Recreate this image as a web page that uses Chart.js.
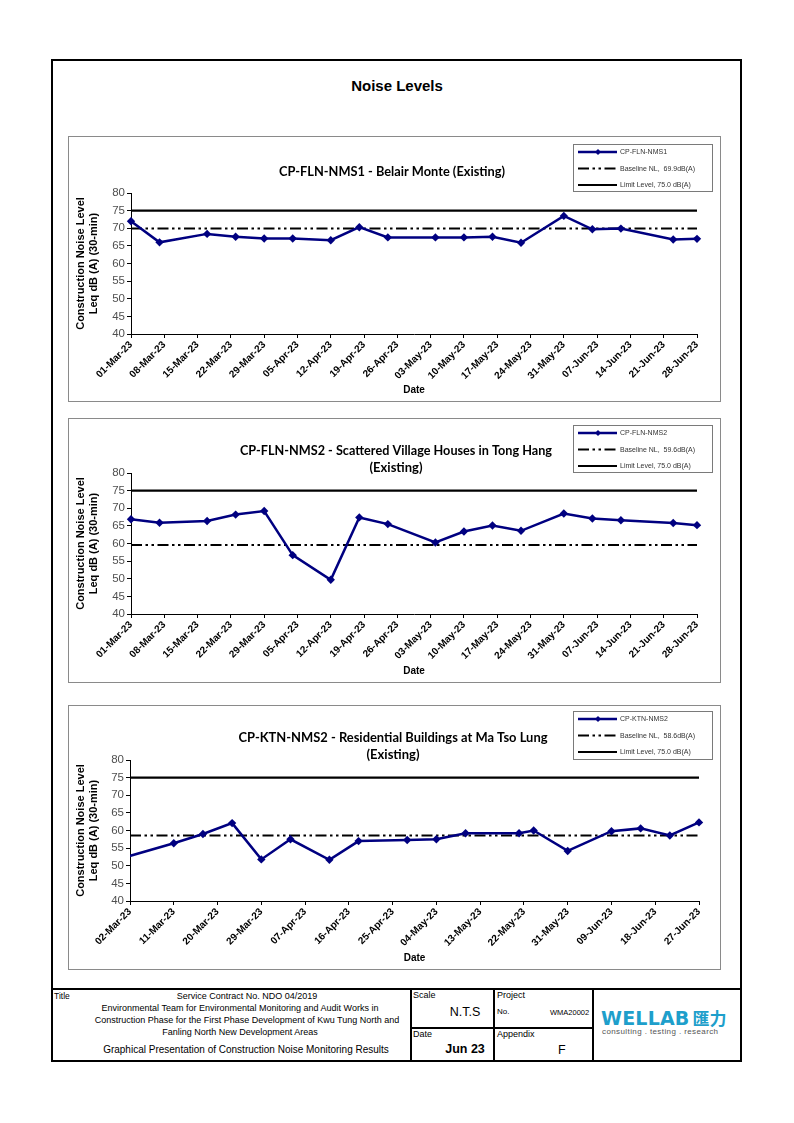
<!DOCTYPE html>
<html>
<head>
<meta charset="utf-8">
<script src="https://cdn.jsdelivr.net/npm/chart.js@4.4.1/dist/chart.umd.min.js"></script>
<style>
  html, body { margin:0; padding:0; background:#fff; }
  body { width:794px; height:1123px; position:relative; overflow:hidden; font-family:"Liberation Sans", Arial, sans-serif; color:#000; }
  .abs { position:absolute; }
  .page { left:51px; top:59px; width:691px; height:1003px; border:2px solid #000; box-sizing:border-box; }
  .box { border:1px solid #8a8a8a; box-sizing:border-box; background:#fff; }
  .box canvas { display:block; }
  .hl { background:#000; height:2px; }
  .vl { background:#000; width:2px; }
  .t { position:absolute; white-space:nowrap; line-height:1; }
</style>
</head>
<body>
<script>
// ---------------- DATA ----------------
const ticks12 = ['01-Mar-23','08-Mar-23','15-Mar-23','22-Mar-23','29-Mar-23','05-Apr-23','12-Apr-23','19-Apr-23','26-Apr-23','03-May-23','10-May-23','17-May-23','24-May-23','31-May-23','07-Jun-23','14-Jun-23','21-Jun-23','28-Jun-23'];
const ticks3 = ['02-Mar-23','11-Mar-23','20-Mar-23','29-Mar-23','07-Apr-23','16-Apr-23','25-Apr-23','04-May-23','13-May-23','22-May-23','31-May-23','09-Jun-23','18-Jun-23','27-Jun-23'];
const yTicks = [40, 45, 50, 55, 60, 65, 70, 75, 80];

const dates1 = ['01-Mar-23','07-Mar-23','17-Mar-23','23-Mar-23','29-Mar-23','04-Apr-23','12-Apr-23','18-Apr-23','24-Apr-23','04-May-23','10-May-23','16-May-23','22-May-23','31-May-23','06-Jun-23','12-Jun-23','23-Jun-23','28-Jun-23'];
const levels1 = [72.0, 66.0, 68.4, 67.6, 67.1, 67.1, 66.6, 70.3, 67.4, 67.4, 67.4, 67.6, 65.9, 73.5, 69.7, 69.9, 66.8, 67.0];
const baseline1 = 69.9;

const dates2 = ['01-Mar-23','07-Mar-23','17-Mar-23','23-Mar-23','29-Mar-23','04-Apr-23','12-Apr-23','18-Apr-23','24-Apr-23','04-May-23','10-May-23','16-May-23','22-May-23','31-May-23','06-Jun-23','12-Jun-23','23-Jun-23','28-Jun-23'];
const levels2 = [66.9, 65.9, 66.4, 68.2, 69.2, 56.7, 49.7, 67.4, 65.5, 60.3, 63.4, 65.1, 63.6, 68.5, 67.1, 66.6, 65.8, 65.2];
const baseline2 = 59.6;

const dates3 = ['01-Mar-23','11-Mar-23','17-Mar-23','23-Mar-23','29-Mar-23','04-Apr-23','12-Apr-23','18-Apr-23','28-Apr-23','04-May-23','10-May-23','21-May-23','24-May-23','31-May-23','09-Jun-23','15-Jun-23','21-Jun-23','27-Jun-23'];
const levels3 = [52.4, 56.4, 59.0, 62.1, 51.8, 57.5, 51.7, 57.0, 57.3, 57.5, 59.2, 59.2, 60.0, 54.2, 59.8, 60.6, 58.6, 62.3];
const baseline3 = 58.6;

const limitLevel = 75.0;

const seriesNames = ['CP-FLN-NMS1', 'CP-FLN-NMS2', 'CP-KTN-NMS2'];
const baselineLabels = ['Baseline NL,  69.9dB(A)', 'Baseline NL,  59.6dB(A)', 'Baseline NL,  58.6dB(A)'];
const limitLabel = 'Limit Level, 75.0 dB(A)';
const chartTitles = [
  ['CP-FLN-NMS1 - Belair Monte (Existing)'],
  ['CP-FLN-NMS2 - Scattered Village Houses in Tong Hang', '(Existing)'],
  ['CP-KTN-NMS2 - Residential Buildings at Ma Tso Lung', '(Existing)']
];
const yTitle = ['Construction Noise Level', 'Leq dB (A) (30-min)'];
const xTitle = 'Date';

// ---------------- HELPERS ----------------
const MONTHS = {Jan:0,Feb:1,Mar:2,Apr:3,May:4,Jun:5,Jul:6,Aug:7,Sep:8,Oct:9,Nov:10,Dec:11};
function dayOf(s) {
  const p = s.split('-');
  return Date.UTC(2000 + parseInt(p[2], 10), MONTHS[p[1]], parseInt(p[0], 10)) / 86400000;
}
const FONT = '"Liberation Sans", Arial, sans-serif';
const NAVY = '#000080';

const boxLegend = {
  id: 'boxLegend',
  afterDraw(chart, args, opts) {
    const ctx = chart.ctx;
    const {x, y, w, h} = opts;
    ctx.save();
    ctx.setLineDash([]);
    ctx.strokeStyle = '#7a7a7a';
    ctx.lineWidth = 1;
    ctx.strokeRect(x + 0.5, y + 0.5, w, h);
    chart.data.datasets.forEach((ds, i) => {
      const ly = y + 8 + i * 16.5;
      ctx.beginPath();
      ctx.setLineDash(ds.borderDash || []);
      ctx.strokeStyle = ds.borderColor;
      ctx.lineWidth = ds.borderWidth;
      ctx.moveTo(x + 5, ly);
      ctx.lineTo(x + 44, ly);
      ctx.stroke();
      ctx.setLineDash([]);
      if (ds.pointRadius > 0) {
        const cx = x + 25, r = 3;
        ctx.beginPath();
        ctx.moveTo(cx, ly - r); ctx.lineTo(cx + r, ly); ctx.lineTo(cx, ly + r); ctx.lineTo(cx - r, ly);
        ctx.closePath();
        ctx.fillStyle = ds.backgroundColor;
        ctx.fill();
      }
      ctx.fillStyle = '#333';
      ctx.font = '7px ' + FONT;
      ctx.textBaseline = 'middle';
      ctx.textAlign = 'left';
      ctx.fillText(ds.label, x + 47, ly + 0.5);
    });
    ctx.restore();
  }
};

const chartTitle = {
  id: 'chartTitle',
  afterDraw(chart, args, opts) {
    const ctx = chart.ctx;
    ctx.save();
    ctx.fillStyle = '#000';
    ctx.font = 'bold 13px Lato, "Open Sans", sans-serif';
    ctx.textAlign = 'center';
    ctx.textBaseline = 'middle';
    opts.lines.forEach((ln, i) => {
      ctx.fillText(ln, opts.x, opts.y + i * 17, opts.maxWidth);
    });
    ctx.restore();
  }
};

function makeChart(canvasId, cfg) {
  const tickDays = cfg.ticks.map(dayOf);
  const xmin = tickDays[0], xmax = tickDays[tickDays.length - 1];
  const series = cfg.dates.map((d, i) => ({x: dayOf(d), y: cfg.levels[i]}));
  new Chart(document.getElementById(canvasId), {
    type: 'line',
    data: {
      datasets: [
        {
          label: cfg.name, data: series,
          borderColor: NAVY, backgroundColor: NAVY, borderWidth: 2.5,
          pointStyle: 'rectRot', pointRadius: 4.2, pointBorderWidth: 0,
          pointBackgroundColor: NAVY, tension: 0,
          clip: cfg.clip
        },
        {
          label: cfg.baseLabel,
          data: [{x: xmin, y: cfg.baseline}, {x: xmax, y: cfg.baseline}],
          borderColor: '#000', backgroundColor: '#000', borderWidth: 2,
          borderDash: [11, 3.5, 2.5, 3.5, 2.5, 3.5], pointRadius: 0
        },
        {
          label: limitLabel,
          data: [{x: xmin, y: limitLevel}, {x: xmax, y: limitLevel}],
          borderColor: '#000', backgroundColor: '#000', borderWidth: 2.2, pointRadius: 0
        }
      ]
    },
    options: {
      responsive: false, animation: false, devicePixelRatio: 1, events: [],
      layout: { padding: cfg.pad },
      plugins: {
        legend: { display: false }, tooltip: { enabled: false },
        boxLegend: cfg.legend,
        chartTitle: cfg.title
      },
      scales: {
        x: {
          type: 'linear', min: xmin, max: xmax,
          afterBuildTicks: (s) => { s.ticks = tickDays.map(v => ({value: v})); },
          afterFit: (s) => { s.height = cfg.xh; },
          ticks: {
            autoSkip: false, maxRotation: 45, minRotation: 45, padding: 1,
            color: '#000', font: {family: FONT, size: 10, weight: 'bold'},
            callback: (v, i) => cfg.ticks[i]
          },
          grid: { display: true, drawOnChartArea: false, drawTicks: true, tickLength: 4, color: '#000', lineWidth: 1 },
          border: { display: true, color: '#000', width: 1 },
          title: { display: true, text: xTitle, color: '#000', font: {family: FONT, size: 10, weight: 'bold'}, padding: {top: 0, bottom: 1} }
        },
        y: {
          type: 'linear', min: 40, max: 80,
          afterBuildTicks: (s) => { s.ticks = yTicks.map(v => ({value: v})); },
          afterFit: (s) => { s.width = cfg.yw; },
          ticks: { color: '#505050', font: {family: FONT, size: 11.5}, padding: 2 },
          grid: { display: true, drawOnChartArea: false, drawTicks: true, tickLength: 4, color: '#000', lineWidth: 1 },
          border: { display: true, color: '#000', width: 1 },
          title: { display: true, text: yTitle, color: '#000', font: {family: FONT, size: 11, weight: 'bold', lineHeight: 1.15}, padding: {top: 0, bottom: 0} }
        }
      }
    },
    plugins: [boxLegend, chartTitle]
  });
}
</script>

<div class="abs page"></div>
<div class="t" style="left:0;width:794px;top:78px;text-align:center;font-size:15px;font-weight:bold;">Noise Levels</div>

<div class="abs box" style="left:68px;top:136px;width:653px;height:266px;"><canvas id="c1" width="651" height="264"></canvas></div>
<div class="abs box" style="left:68px;top:418px;width:653px;height:265px;"><canvas id="c2" width="651" height="263"></canvas></div>
<div class="abs box" style="left:68px;top:705px;width:653px;height:265px;"><canvas id="c3" width="651" height="263"></canvas></div>

<!-- footer -->
<div class="abs hl" style="left:51px;top:988px;width:691px;"></div>
<div class="abs vl" style="left:410px;top:988px;height:74px;"></div>
<div class="abs vl" style="left:493px;top:988px;height:74px;"></div>
<div class="abs vl" style="left:592px;top:988px;height:74px;"></div>
<div class="abs hl" style="left:410px;top:1027px;width:184px;"></div>

<div class="t" style="left:54px;top:992px;font-size:8.5px;">Title</div>
<div class="t" style="left:82px;width:330px;top:992px;text-align:center;font-size:9px;">Service Contract No. NDO 04/2019</div>
<div class="t" style="left:82px;width:316px;top:1004px;text-align:center;font-size:9px;">Environmental Team for Environmental Monitoring and Audit Works in</div>
<div class="t" style="left:82px;width:330px;top:1016px;text-align:center;font-size:9px;">Construction Phase for the First Phase Development of Kwu Tung North and</div>
<div class="t" style="left:82px;width:316px;top:1028px;text-align:center;font-size:9px;">Fanling North New Development Areas</div>
<div class="t" style="left:88px;width:316px;top:1045px;text-align:center;font-size:10px;">Graphical Presentation of Construction Noise Monitoring Results</div>

<div class="t" style="left:413px;top:991px;font-size:9px;">Scale</div>
<div class="t" style="left:411px;width:108px;top:1006px;text-align:center;font-size:12.5px;">N.T.S</div>
<div class="t" style="left:413px;top:1030px;font-size:9px;">Date</div>
<div class="t" style="left:411px;width:108px;top:1043px;text-align:center;font-size:12.5px;font-weight:bold;">Jun 23</div>

<div class="t" style="left:497px;top:991px;font-size:9px;">Project</div>
<div class="t" style="left:497px;top:1008px;font-size:8px;">No.</div>
<div class="t" style="left:550px;top:1009px;font-size:7.5px;">WMA20002</div>
<div class="t" style="left:497px;top:1030px;font-size:9px;">Appendix</div>
<div class="t" style="left:558px;top:1044px;font-size:12.5px;">F</div>

<div class="t" style="left:601px;top:1009px;font-size:19px;font-weight:900;color:#1e9fcb;letter-spacing:0.2px;font-family:'DejaVu Sans', Arial, sans-serif;">WELLAB<span style="font-family:'Noto Sans CJK TC','Noto Sans CJK SC',sans-serif;font-weight:bold;font-size:17px;letter-spacing:0;margin-left:3px;">匯力</span></div>
<div class="t" style="left:602px;top:1028px;font-size:8px;color:#555;letter-spacing:0.4px;">consulting . testing . research</div>

<script>
makeChart('c1', {
  ticks: ticks12, dates: dates1, levels: levels1, baseline: baseline1,
  name: seriesNames[0], baseLabel: baselineLabels[0],
  pad: {left: 6, right: 23, top: 56, bottom: 4}, yw: 56, xh: 63, clip: 8,
  legend: {x: 504, y: 7, w: 139, h: 47},
  title: {lines: chartTitles[0], x: 323, y: 35, maxWidth: 226}
});
makeChart('c2', {
  ticks: ticks12, dates: dates2, levels: levels2, baseline: baseline2,
  name: seriesNames[1], baseLabel: baselineLabels[1],
  pad: {left: 6, right: 23, top: 54, bottom: 4}, yw: 56, xh: 64, clip: 8,
  legend: {x: 504, y: 6, w: 139, h: 47},
  title: {lines: chartTitles[1], x: 327, y: 32, maxWidth: 312}
});
makeChart('c3', {
  ticks: ticks3, dates: dates3, levels: levels3, baseline: baseline3,
  name: seriesNames[2], baseLabel: baselineLabels[2],
  pad: {left: 6, right: 21, top: 54, bottom: 4}, yw: 55, xh: 64, clip: {left: 0, right: 8, top: 8, bottom: 8},
  legend: {x: 504, y: 5, w: 139, h: 48},
  title: {lines: chartTitles[2], x: 324, y: 32, maxWidth: 309}
});
</script>
</body>
</html>
